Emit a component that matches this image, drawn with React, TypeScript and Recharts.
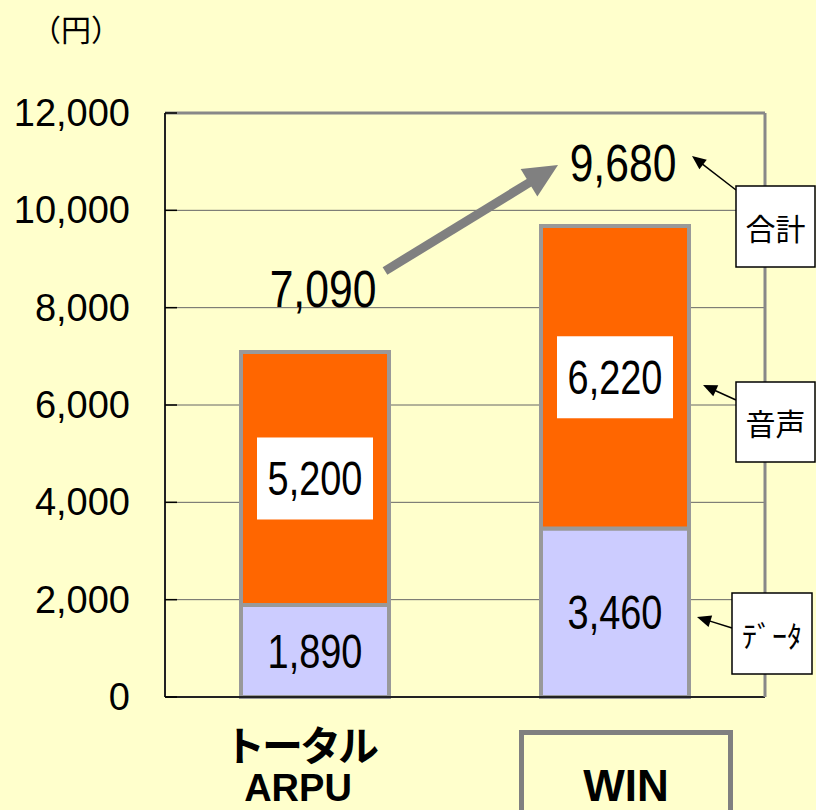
import React from 'react';
import { BarChart, Bar, XAxis, YAxis, CartesianGrid, ReferenceLine, LabelList } from 'recharts';

const categories = ['トータル\nARPU', 'WIN'];
const dataArpu = [1890, 3460];
const voiceArpu = [5200, 6220];
const totalArpu = [7090, 9680];
const yTicks = [0, 2000, 4000, 6000, 8000, 10000, 12000];
const unitLabel = '（円）';
const noteTotal = '合計';
const noteVoice = '音声';
const noteData = 'ﾃﾞｰﾀ';

const rows = categories.map((c, i) => ({
  name: c,
  data: dataArpu[i],
  voice: voiceArpu[i],
  total: totalArpu[i],
}));

const fmt = (v: number) => Number(v).toLocaleString('en-US');
const NUM_FONT = "'Liberation Sans', Arial, sans-serif";
const JP_FONT = "'Noto Sans CJK JP', sans-serif";
const SANS = "'Liberation Sans', Arial, sans-serif";

const YTick = (props: any) => {
  const { x, y, payload } = props;
  return (
    <g>
      <line x1={x} x2={x + 12} y1={y} y2={y} stroke="#000" strokeWidth={1.5} />
      <text x={x - 35} y={y} textAnchor="end" dominantBaseline="central" fontFamily={SANS} fontSize={38} fill="#000">
        {fmt(payload.value)}
      </text>
    </g>
  );
};

const XTick = (props: any) => {
  const { x, y, payload, index } = props;
  const lines = String(payload.value).split('\n');
  if (index === 1) {
    return (
      <g>
        <rect x={x - 93.5} y={y + 35.5} width={209} height={100} fill="none" stroke="#808080" strokeWidth={5} />
        <text x={x + 11} y={y + 104} textAnchor="middle" fontFamily={SANS} fontWeight="bold" fontSize={44} fill="#000">
          {lines[0]}
        </text>
      </g>
    );
  }
  return (
    <g>
      <text x={x - 15} y={y + 64} textAnchor="middle" fontFamily={JP_FONT} fontWeight="bold" fontSize={41} letterSpacing={-3} fill="#000">
        {lines[0]}
      </text>
      <text x={x - 17} y={y + 104} textAnchor="middle" fontFamily={SANS} fontWeight="bold" fontSize={38} fill="#000">
        {lines[1]}
      </text>
    </g>
  );
};

const NarrowText = ({ cx, cy, size, sx, children, central }: any) => (
  <text
    transform={`translate(${cx},${cy}) scale(${sx},1)`}
    x={0}
    y={0}
    textAnchor="middle"
    dominantBaseline={central ? 'central' : 'alphabetic'}
    fontFamily={NUM_FONT}
    fontSize={size}
    fill="#000"
  >
    {children}
  </text>
);

const PlainLabel = (props: any) => {
  const { x, y, width, height, value } = props;
  return (
    <NarrowText cx={x + width / 2} cy={y + height / 2} size={48} sx={0.79} central>
      {fmt(value)}
    </NarrowText>
  );
};

const BoxLabel = (props: any) => {
  const { x, y, width, height, value } = props;
  const cx = x + width / 2;
  const cy = y + height / 2;
  return (
    <g>
      <rect x={cx - 58} y={cy - 41} width={116} height={82} fill="#FFFFFF" />
      <NarrowText cx={cx} cy={cy} size={48} sx={0.79} central>
        {fmt(value)}
      </NarrowText>
    </g>
  );
};

const TotalLabel = (props: any) => {
  const { x, y, width, value } = props;
  return (
    <NarrowText cx={x + width / 2 + 8} cy={y - 45} size={52} sx={0.82}>
      {fmt(value)}
    </NarrowText>
  );
};

function Arrow({ x1, y1, x2, y2, color, w, hl, hw }: any) {
  const dx = x2 - x1;
  const dy = y2 - y1;
  const len = Math.sqrt(dx * dx + dy * dy);
  const ux = dx / len;
  const uy = dy / len;
  const bx = x2 - ux * hl;
  const by = y2 - uy * hl;
  const px = -uy;
  const py = ux;
  const pts = `${x2},${y2} ${bx + px * hw / 2},${by + py * hw / 2} ${bx - px * hw / 2},${by - py * hw / 2}`;
  return (
    <g>
      <line x1={x1} y1={y1} x2={bx + ux * 2} y2={by + uy * 2} stroke={color} strokeWidth={w} />
      <polygon points={pts} fill={color} />
    </g>
  );
}

function NoteBox({ x, y, w, h, label, size }: any) {
  return (
    <g>
      <rect x={x} y={y} width={w} height={h} fill="#FFFFFF" stroke="#000" strokeWidth={1.5} />
      <text x={x + w / 2} y={y + h / 2} textAnchor="middle" dominantBaseline="central" fontFamily={JP_FONT} fontSize={size} fill="#000">
        {label}
      </text>
    </g>
  );
}

export default function App() {
  return (
    <div style={{ position: 'absolute', left: 0, top: 0, width: 816, height: 810, background: '#FFFFCC', overflow: 'hidden' }}>
      <BarChart width={816} height={810} data={rows} margin={{ top: 113, right: 0, bottom: 0, left: 0 }} barSize={148}>
        <CartesianGrid horizontal vertical={false} stroke="#666" strokeWidth={1} />
        <XAxis
          dataKey="name"
          height={113}
          tick={<XTick />}
          tickLine={false}
          tickSize={0}
          tickMargin={0}
          axisLine={{ stroke: '#222', strokeWidth: 2 }}
          interval={0}
        />
        <YAxis
          width={165}
          domain={[0, 12000]}
          ticks={yTicks}
          tick={<YTick />}
          tickLine={false}
          tickSize={0}
          tickMargin={0}
          axisLine={{ stroke: '#222', strokeWidth: 2 }}
          interval={0}
        />
        <YAxis
          yAxisId="r"
          orientation="right"
          width={51}
          domain={[0, 12000]}
          tick={false}
          tickLine={false}
          axisLine={{ stroke: '#888', strokeWidth: 3 }}
        />
        <ReferenceLine y={12000} stroke="#888" strokeWidth={3} />
        <Bar dataKey="data" stackId="a" fill="#CCCCFF" stroke="#999999" strokeWidth={4} isAnimationActive={false}>
          <LabelList dataKey="data" content={PlainLabel} />
        </Bar>
        <Bar dataKey="voice" stackId="a" fill="#FF6600" stroke="#999999" strokeWidth={4} isAnimationActive={false}>
          <LabelList dataKey="voice" content={BoxLabel} />
          <LabelList dataKey="total" content={TotalLabel} />
        </Bar>
      </BarChart>
      <svg width={816} height={810} style={{ position: 'absolute', left: 0, top: 0, pointerEvents: 'none' }}>
        <text x={76} y={28} textAnchor="middle" dominantBaseline="central" fontFamily={JP_FONT} fontSize={30} fill="#000">
          {unitLabel}
        </text>
        <Arrow x1={385} y1={271} x2={558} y2={165} color="#808080" w={9} hl={34} hw={32} />
        <Arrow x1={736} y1={190} x2={692} y2={156} color="#000" w={1.5} hl={14} hw={12} />
        <Arrow x1={736} y1={400} x2={703} y2={385} color="#000" w={1.5} hl={14} hw={12} />
        <Arrow x1={732} y1={628} x2={697} y2={617} color="#000" w={1.5} hl={14} hw={12} />
        <NoteBox x={736} y={186} w={79} h={81} label={noteTotal} size={30} />
        <NoteBox x={736} y={382} w={79} h={80} label={noteVoice} size={30} />
        <NoteBox x={732} y={593} w={80} h={81} label={noteData} size={30} />
      </svg>
    </div>
  );
}
